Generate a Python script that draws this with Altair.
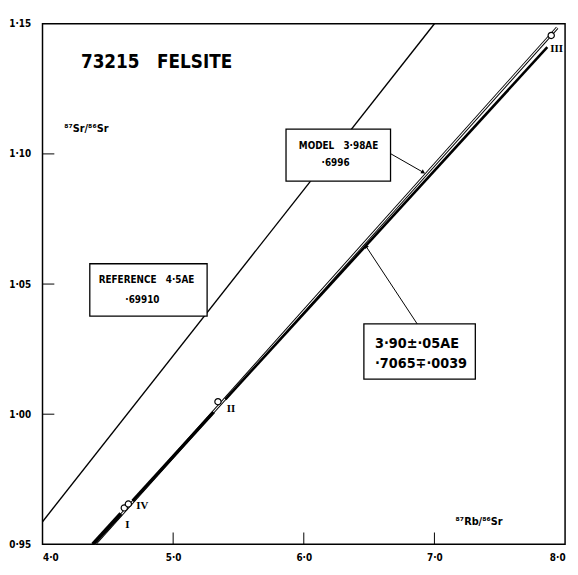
import altair as alt
import pandas as pd

# ---------------- data ----------------
X_TICKS = [4.0, 5.0, 6.0, 7.0, 8.0]
X_TICK_LABELS = ["4·0", "5·0", "6·0", "7·0", "8·0"]
Y_TICKS = [0.95, 1.00, 1.05, 1.10, 1.15]
Y_TICK_LABELS = ["0·95", "1·00", "1·05", "1·10", "1·15"]
X_INNER_TICKS = [5.0, 6.0, 7.0]
Y_INNER_TICKS = [1.00, 1.05, 1.10]

# reference isochron 4.5 AE, 0.69910
REF_X = [4.0, 7.0]
REF_Y = [0.9587, 1.15]
# model isochron 3.98 AE, 0.6996
MODEL_X = [4.40, 7.94]
MODEL_Y = [0.95, 1.1485]
# fitted isochron 3.90 AE (drawn thick, broken at the points)
ISO_SEG = [1, 1, 2, 2, 3, 3]
ISO_X = [4.385, 4.60, 4.69, 5.31, 5.40, 7.864]
ISO_Y = [0.95, 0.9618, 0.9667, 1.0008, 1.0057, 1.141]
ISO_W = [4.0, 4.0, 3.2, 3.2, 2.6, 2.6]

# samples
PT_NAME = ["I", "IV", "II", "III"]
PT_X = [4.626, 4.657, 5.343, 7.894]
PT_Y = [0.964, 0.9655, 1.0048, 1.1455]
PT_LBL_X = [4.634, 4.717, 5.411, 7.887]
PT_LBL_Y = [0.9576, 0.9647, 1.0018, 1.1402]

# annotation boxes
BOX_X = [4.362, 5.864, 6.460]
BOX_X2 = [5.260, 6.664, 7.313]
BOX_Y = [1.0578, 1.1095, 1.0347]
BOX_Y2 = [1.0377, 1.0895, 1.0135]

NB = "\u00a0"
SMALL_TXT = ["REFERENCE" + NB * 3 + "4·5AE", "·69910", "MODEL" + NB * 3 + "3·98AE", "·6996"]
SMALL_TXT_X = [4.430, 4.634, 5.962, 6.136]
SMALL_TXT_Y = [1.0517, 1.0438, 1.1031, 1.0963]
BIG_TXT = ["3·90±·05AE", "·7065∓·0039"]
BIG_TXT_X = [6.545, 6.545]
BIG_TXT_Y = [1.0268, 1.0192]

# leader arrows (tail -> head)
ARROW_MODEL_X = [6.664, 6.915]
ARROW_MODEL_Y = [1.1001, 1.0929]
ARROW_ISO_X = [6.868, 6.475]
ARROW_ISO_Y = [1.0347, 1.0646]

TITLE = "73215" + NB * 3 + "FELSITE"
TITLE_X, TITLE_Y = 4.294, 1.1353
YT_TXT, YT_X, YT_Y = "⁸⁷Sr/⁸⁶Sr", 4.166, 1.1095
XT_TXT, XT_X, XT_Y = "⁸⁷Rb/⁸⁶Sr", 7.162, 0.9587

W, H = 530, 528
FONT = "Liberation Sans Narrow, DejaVu Sans Condensed, DejaVu Sans, sans-serif"

# ---------------- scales / axes ----------------
def lab_expr(ticks, labels):
    arr = "[" + ",".join(repr(t) for t in ticks) + "]"
    lab = "[" + ",".join("'" + l + "'" for l in labels) + "]"
    return f"{lab}[indexof({arr}, datum.value)]"

xs = alt.Scale(domain=[4.0, 8.0], nice=False, zero=False)
ys = alt.Scale(domain=[0.95, 1.15], nice=False, zero=False)
xaxis = alt.Axis(values=X_TICKS, labelExpr=lab_expr(X_TICKS, X_TICK_LABELS), ticks=False,
                 domain=False, grid=False, title=None, labelPadding=8, labelFontSize=10,
                 labelFont=FONT, labelColor="black", labelFontWeight="bold")
yaxis = alt.Axis(values=Y_TICKS, labelExpr=lab_expr(Y_TICKS, Y_TICK_LABELS), ticks=False,
                 domain=False, grid=False, title=None, labelPadding=12, labelFontSize=10,
                 labelFont=FONT, labelColor="black", labelFontWeight="bold")
X = alt.X("x:Q", scale=xs, axis=xaxis)
Y = alt.Y("y:Q", scale=ys, axis=yaxis)

ref_df = pd.DataFrame({"x": REF_X, "y": REF_Y})
model_df = pd.DataFrame({"x": MODEL_X, "y": MODEL_Y})
iso_df = pd.DataFrame({"x": ISO_X, "y": ISO_Y, "seg": ISO_SEG, "w": ISO_W})
pt_df = pd.DataFrame({"x": PT_X, "y": PT_Y, "name": PT_NAME})
lbl_df = pd.DataFrame({"x": PT_LBL_X, "y": PT_LBL_Y, "name": PT_NAME})
box_df = pd.DataFrame({"x": BOX_X, "x2": BOX_X2, "y": BOX_Y, "y2": BOX_Y2})
small_df = pd.DataFrame({"x": SMALL_TXT_X, "y": SMALL_TXT_Y, "t": SMALL_TXT})
big_df = pd.DataFrame({"x": BIG_TXT_X, "y": BIG_TXT_Y, "t": BIG_TXT})
am_df = pd.DataFrame({"x": ARROW_MODEL_X, "y": ARROW_MODEL_Y})
ai_df = pd.DataFrame({"x": ARROW_ISO_X, "y": ARROW_ISO_Y})
xt_df = pd.DataFrame({"x": X_INNER_TICKS})
yt_df = pd.DataFrame({"y": Y_INNER_TICKS})
misc_df = pd.DataFrame({"x": [TITLE_X, YT_X, XT_X], "y": [TITLE_Y, YT_Y, XT_Y],
                        "t": [TITLE, YT_TXT, XT_TXT]})

ref_line = alt.Chart(ref_df).mark_line(color="black", strokeWidth=1.4, clip=True).encode(x=X, y=Y)
model_outer = alt.Chart(model_df).mark_line(color="black", strokeWidth=3.0, clip=True).encode(x=X, y=Y)
model_inner = alt.Chart(model_df).mark_line(color="white", strokeWidth=1.1, clip=True).encode(x=X, y=Y)
iso_line = alt.Chart(iso_df).mark_line(color="black", clip=True, strokeCap="butt").encode(
    x=X, y=Y, detail="seg:N", strokeWidth=alt.StrokeWidth("w:Q", scale=None))
points = alt.Chart(pt_df).mark_point(shape="circle", filled=True, fill="white", stroke="black",
                                     strokeWidth=1.2, size=40, opacity=1).encode(x=X, y=Y)
pt_labels = alt.Chart(lbl_df).mark_text(font="Liberation Serif, DejaVu Serif, serif", fontSize=11,
                                        fontWeight="bold", align="left", baseline="middle",
                                        color="black").encode(x=X, y=Y, text="name:N")
boxes = alt.Chart(box_df).mark_rect(fill="white", stroke="black", strokeWidth=1.3).encode(
    x=X, x2="x2:Q", y=Y, y2="y2:Q")
small_txt = alt.Chart(small_df).mark_text(font=FONT, fontSize=10, fontWeight="bold",
                                          align="left", baseline="middle", color="black").encode(
    x=X, y=Y, text="t:N")
big_txt = alt.Chart(big_df).mark_text(font=FONT, fontSize=14.5, fontWeight="bold",
                                      align="left", baseline="middle", color="black").encode(
    x=X, y=Y, text="t:N")
arrow_m = alt.Chart(am_df).mark_line(color="black", strokeWidth=1).encode(x=X, y=Y)
arrow_i = alt.Chart(ai_df).mark_line(color="black", strokeWidth=1).encode(x=X, y=Y)
head_m = alt.Chart(am_df.tail(1)).mark_point(shape="triangle-up", filled=True, color="black",
                                             size=22, angle=121, opacity=1).encode(x=X, y=Y)
head_i = alt.Chart(ai_df.tail(1)).mark_point(shape="triangle-up", filled=True, color="black",
                                             size=22, angle=327, opacity=1).encode(x=X, y=Y)
title = alt.Chart(misc_df.head(1)).mark_text(font=FONT, fontSize=19, fontWeight="bold",
                                             align="left", baseline="middle", color="black").encode(
    x=X, y=Y, text="t:N")
axis_titles = alt.Chart(misc_df.tail(2)).mark_text(font=FONT, fontSize=11, fontWeight="bold",
                                                   align="left", baseline="middle",
                                                   color="black").encode(x=X, y=Y, text="t:N")
x_ticks = alt.Chart(xt_df).mark_rule(color="black", strokeWidth=1).encode(
    x=X, y=alt.value(H), y2=alt.value(H - 12))
y_ticks = alt.Chart(yt_df).mark_rule(color="black", strokeWidth=1).encode(
    y=Y, x=alt.value(0), x2=alt.value(12))

chart = alt.layer(
    ref_line, model_outer, model_inner, iso_line, points, pt_labels,
    boxes, small_txt, big_txt, arrow_m, arrow_i, head_m, head_i,
    title, axis_titles, x_ticks, y_ticks,
).properties(
    width=W, height=H,
    padding={"left": 35, "top": 12, "right": 5, "bottom": 19},
    autosize=alt.AutoSizeParams(type="none"),
    background="white",
).configure_view(stroke="black", strokeWidth=1.5)

chart.save("out.html", embed_options={"renderer": "svg", "actions": False})
